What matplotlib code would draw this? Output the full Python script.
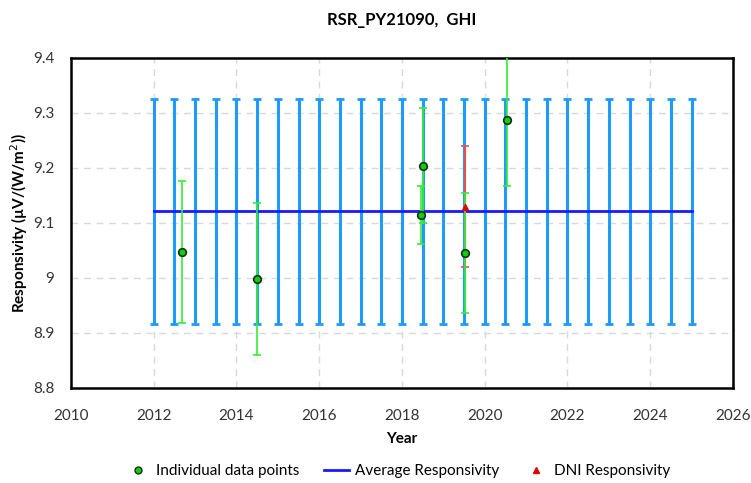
import numpy as np
import matplotlib
matplotlib.use("Agg")
import matplotlib.pyplot as plt
from matplotlib.lines import Line2D

plt.rcParams['font.family'] = ['Lato', 'DejaVu Sans']

# Uncertainty band (calibration years, every half year)
band_years = [2012 + 0.5 * i for i in range(27)]
avg_resp = 9.121
avg_unc = 0.204

# Individual data points
pt_years = [2012.68, 2014.49, 2018.45, 2018.52, 2019.52, 2020.53]
pt_vals = [9.047, 8.998, 9.115, 9.204, 9.045, 9.288]
pt_err = [0.129, 0.138, 0.053, 0.105, 0.109, 0.120]

# DNI responsivity
dni_years = [2019.52]
dni_vals = [9.129]
dni_err = [0.110]

xticks = [2010, 2012, 2014, 2016, 2018, 2020, 2022, 2024, 2026]
yticks = [8.8, 8.9, 9.0, 9.1, 9.2, 9.3, 9.4]
ytick_labels = ['8.8', '8.9', '9', '9.1', '9.2', '9.3', '9.4']

fig = plt.figure(figsize=(7.51, 4.83), dpi=100)
ax = fig.add_axes([0.0945, 0.197, 0.8815, 0.683])

ax.errorbar(band_years, [avg_resp] * len(band_years), yerr=avg_unc, fmt='none',
            ecolor='#1E9BFF', elinewidth=2.2, capsize=3, capthick=2, zorder=2)
ax.plot([band_years[0], band_years[-1]], [avg_resp, avg_resp], color='#1A1AFF',
        lw=2, zorder=3)
ax.errorbar(dni_years, dni_vals, yerr=dni_err, fmt='none', ecolor='#E85050',
            elinewidth=1.5, capsize=3, capthick=1.2, zorder=4)
ax.errorbar(pt_years, pt_vals, yerr=pt_err, fmt='none', ecolor='#33EE33',
            elinewidth=1.2, capsize=3, capthick=1.2, zorder=5)
ax.plot(dni_years, dni_vals, ls='none', marker='^', color='#DD0000', ms=5, zorder=6)
ax.plot(pt_years, pt_vals, ls='none', marker='o', mfc='#11CC11', mec='#113311',
        mew=1.2, ms=5.5, zorder=7)

ax.set_xlim(2010, 2026)
ax.set_ylim(8.8, 9.4)
ax.set_xticks(xticks)
ax.set_yticks(yticks)
ax.set_yticklabels(ytick_labels)
ax.tick_params(labelsize=11, length=0, colors='#333333')
ax.tick_params(axis='x', pad=15)
ax.tick_params(axis='y', pad=12)
ax.grid(True, color='#D9D9D9', ls=(0, (5, 4)), lw=1)
ax.set_axisbelow(True)
for s in ax.spines.values():
    s.set_color('black')
    s.set_linewidth(1.8)

ax.set_xlabel('Year', fontsize=11, fontweight='bold', labelpad=7)
ax.set_ylabel('Responsivity (µV/(W/m$^{2}$))', fontsize=11, fontweight='bold', labelpad=2)
fig.suptitle('RSR_PY21090,  GHI', fontsize=12, fontweight='bold', y=0.975, x=0.535)

handles = [
    Line2D([], [], ls='none', marker='o', mfc='#11CC11', mec='#113311', ms=5),
    Line2D([], [], color='#1A1AFF', lw=2),
    Line2D([], [], ls='none', marker='^', color='#DD0000', ms=5),
]
labels = ['Individual data points', 'Average Responsivity', 'DNI Responsivity']
fig.legend(handles, labels, loc='lower center', bbox_to_anchor=(0.53, -0.018), ncol=3,
           frameon=False, fontsize=11, handlelength=1.6, handletextpad=0.4,
           columnspacing=1.6)

fig.savefig('out.png', dpi=100)
